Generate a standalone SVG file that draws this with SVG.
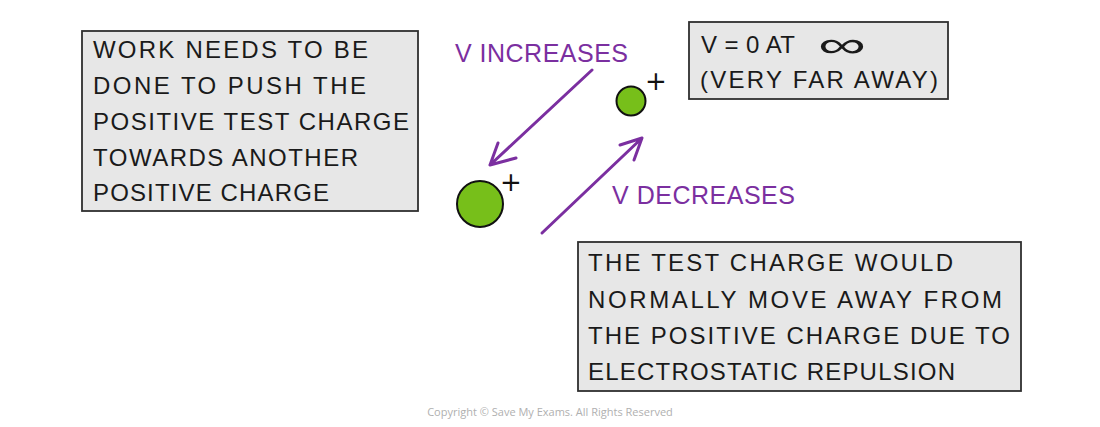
<svg xmlns="http://www.w3.org/2000/svg" width="1100" height="427" viewBox="0 0 1100 427">
<defs>
<style>
.box{fill:#e7e7e7;stroke:#2f2f2f;stroke-width:1.8}
.t{font-family:"Liberation Sans","DejaVu Sans",sans-serif;font-size:24px;fill:#1a1a1a}
.p{font-family:"Liberation Sans","DejaVu Sans",sans-serif;font-size:25px;fill:#7b2fa0}
.arr{fill:none;stroke:#7b2fa0;stroke-width:3;stroke-linecap:round;stroke-linejoin:round}
.chg{fill:#77bf1a;stroke:#111;stroke-width:2}
.plus{font-family:"DejaVu Sans","Liberation Sans",sans-serif;font-size:26px;fill:#111}
.copy{font-family:"Open Sans","Liberation Sans",sans-serif;font-size:11px;fill:#b0b0b0}
</style>
</defs>
<rect width="1100" height="427" fill="#ffffff"/>
<g id="box-work">
<rect class="box" x="82" y="31" width="336" height="180"/>
<text class="t" x="93" y="58" textLength="275" lengthAdjust="spacing">WORK NEEDS TO BE</text>
<text class="t" x="93" y="94" textLength="273" lengthAdjust="spacing">DONE TO PUSH THE</text>
<text class="t" x="93" y="130" textLength="316" lengthAdjust="spacing">POSITIVE TEST CHARGE</text>
<text class="t" x="93" y="166" textLength="265" lengthAdjust="spacing">TOWARDS ANOTHER</text>
<text class="t" x="93" y="201" textLength="236" lengthAdjust="spacing">POSITIVE CHARGE</text>
</g>
<g id="box-infinity">
<rect class="box" x="689" y="22" width="259" height="77"/>
<text class="t" x="701" y="53" textLength="94" lengthAdjust="spacing">V = 0 AT</text>
<text x="818" y="57" font-family="DejaVu Sans, sans-serif" font-weight="200" font-size="36" fill="#1a1a1a" textLength="48" lengthAdjust="spacingAndGlyphs">∞</text>
<text class="t" x="700" y="88" textLength="238" lengthAdjust="spacing">(VERY FAR AWAY)</text>
</g>
<g id="box-repulsion">
<rect class="box" x="578" y="242" width="443" height="149"/>
<text class="t" x="588" y="271" textLength="365" lengthAdjust="spacing">THE TEST CHARGE WOULD</text>
<text class="t" x="588" y="308" textLength="414" lengthAdjust="spacing">NORMALLY MOVE AWAY FROM</text>
<text class="t" x="588" y="344" textLength="422" lengthAdjust="spacing">THE POSITIVE CHARGE DUE TO</text>
<text class="t" x="588" y="380" textLength="367" lengthAdjust="spacing">ELECTROSTATIC REPULSION</text>
</g>
<g id="label-increases">
<text class="p" x="455" y="62" textLength="173" lengthAdjust="spacing">V INCREASES</text>
</g>
<g id="label-decreases">
<text class="p" x="612" y="204" textLength="183" lengthAdjust="spacing">V DECREASES</text>
</g>
<g id="charge-large">
<circle class="chg" cx="480" cy="204" r="23"/>
<text class="plus" x="511" y="191" text-anchor="middle">+</text>
</g>
<g id="charge-small">
<circle class="chg" cx="631" cy="101" r="14.5"/>
<text class="plus" x="656" y="90" text-anchor="middle">+</text>
</g>
<g id="connectors">
<path class="arr" d="M592 70 L490 165 M490 165 L498 143 M490 165 L516 158"/>
<path class="arr" d="M542 233 L642 138 M642 138 L620 145 M642 138 L634 160"/>
</g>
<text class="copy" x="550" y="416" text-anchor="middle">Copyright © Save My Exams. All Rights Reserved</text>
</svg>
